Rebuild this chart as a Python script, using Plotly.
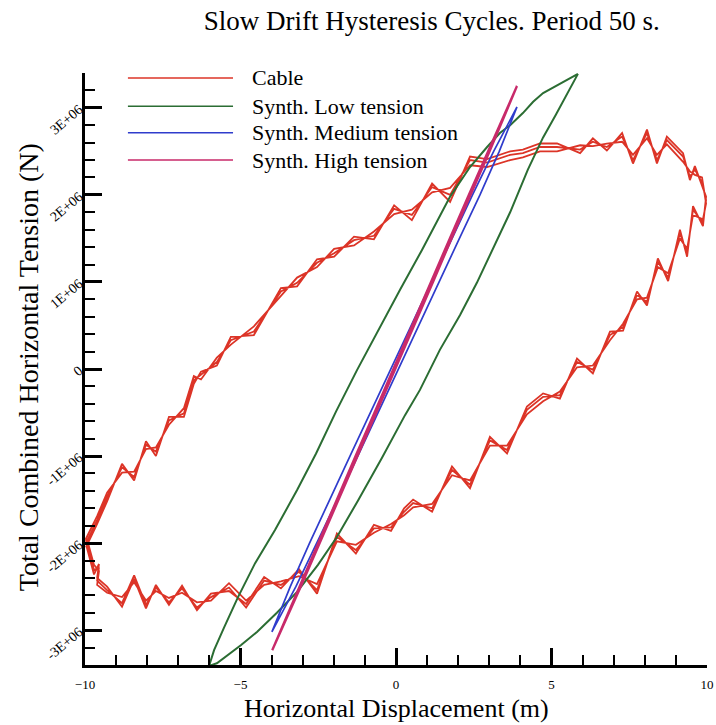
import numpy as np
import plotly.graph_objects as go

# ---------------------------------------------------------------------------
# Data (displacement in m, tension in MN; converted to N when plotted)
# ---------------------------------------------------------------------------

# Steel cable: loop sampled along the lower branch (left -> right) and then
# back along the upper branch (right -> left).
cable_x = [
    -9.94, -9.71, -9.55, -9.61, -9.29, -8.81, -8.42, -8.04, -7.72, -7.30,
    -6.88, -6.40, -5.95, -5.37, -4.82, -4.24, -3.70, -3.12, -2.54, -1.90,
    -1.29, -0.71, -0.16, 0.26, 0.55, 1.16, 1.80, 2.38, 3.02, 3.57,
    4.21, 4.73, 5.27, 5.82, 6.33, 6.88, 7.30, 7.75, 8.07, 8.42,
    8.75, 9.13, 9.36, 9.55, 9.87, 9.97,
    9.84, 9.61, 9.45, 9.23, 8.71, 8.39, 8.07, 7.62, 7.27, 6.78,
    6.33, 5.92, 5.18, 4.63, 4.08, 3.67, 2.93, 2.38, 1.74, 1.16,
    0.51, -0.06, -0.71, -1.35, -1.99, -2.54, -3.18, -3.70, -4.57, -5.31,
    -5.76, -6.27, -6.50, -6.82, -7.30, -7.72, -8.04, -8.42, -8.81, -9.29,
    -9.61, -9.97,
]

cable_y_cycle1 = [
    -2.00, -2.31, -2.28, -2.43, -2.54, -2.69, -2.37, -2.71, -2.51, -2.68,
    -2.52, -2.74, -2.62, -2.51, -2.74, -2.43, -2.48, -2.33, -2.54, -1.93,
    -2.08, -1.83, -1.82, -1.64, -1.54, -1.60, -1.16, -1.33, -0.82, -0.93,
    -0.47, -0.32, -0.30, 0.08, -0.01, 0.39, 0.48, 0.85, 0.77, 1.23,
    1.05, 1.56, 1.33, 1.83, 1.68, 1.94,
    2.14, 2.29, 2.21, 2.44, 2.63, 2.40, 2.71, 2.40, 2.67, 2.55,
    2.61, 2.52, 2.55, 2.55, 2.48, 2.46, 2.37, 2.40, 2.00, 2.09,
    1.77, 1.84, 1.53, 1.48, 1.33, 1.22, 0.99, 0.89, 0.43, 0.33,
    0.08, -0.07, -0.13, -0.51, -0.59, -0.95, -0.87, -1.24, -1.13, -1.47,
    -1.74, -2.00,
]

cable_y_cycle2 = [
    -1.95, -2.25, -2.32, -2.48, -2.57, -2.62, -2.45, -2.66, -2.55, -2.63,
    -2.57, -2.68, -2.66, -2.46, -2.66, -2.48, -2.44, -2.38, -2.47, -1.98,
    -2.02, -1.88, -1.78, -1.68, -1.59, -1.55, -1.22, -1.28, -0.88, -0.88,
    -0.52, -0.37, -0.26, 0.02, 0.04, 0.33, 0.52, 0.80, 0.82, 1.17,
    1.10, 1.50, 1.38, 1.77, 1.72, 1.90,
    2.20, 2.23, 2.27, 2.38, 2.58, 2.46, 2.65, 2.46, 2.61, 2.59,
    2.56, 2.57, 2.50, 2.50, 2.43, 2.40, 2.32, 2.34, 2.08, 2.03,
    1.83, 1.78, 1.58, 1.42, 1.38, 1.17, 1.05, 0.84, 0.49, 0.28,
    0.13, -0.12, -0.08, -0.45, -0.64, -0.90, -0.92, -1.18, -1.19, -1.42,
    -1.69, -1.95,
]

cable_y_cycle3 = [
    -2.05, -2.36, -2.24, -2.40, -2.50, -2.73, -2.41, -2.75, -2.48, -2.71,
    -2.49, -2.77, -2.58, -2.55, -2.70, -2.39, -2.52, -2.30, -2.58, -1.89,
    -2.12, -1.79, -1.86, -1.60, -1.50, -1.64, -1.12, -1.37, -0.78, -0.97,
    -0.43, -0.28, -0.34, 0.12, -0.05, 0.43, 0.44, 0.89, 0.73, 1.27,
    1.01, 1.60, 1.29, 1.87, 1.64, 1.98,
    2.10, 2.33, 2.17, 2.48, 2.67, 2.36, 2.75, 2.36, 2.71, 2.51,
    2.65, 2.48, 2.59, 2.59, 2.52, 2.50, 2.41, 2.44, 1.92, 2.13,
    1.71, 1.88, 1.49, 1.52, 1.29, 1.26, 0.95, 0.93, 0.39, 0.37,
    0.04, -0.03, -0.17, -0.55, -0.55, -1.00, -0.83, -1.28, -1.09, -1.52,
    -1.78, -2.05,
]

# Synthetic line, low pretension: upper branch (top tip -> bottom tip),
# then lower branch back up to the top tip.
low_x = [
    5.85, 5.18, 4.73, 4.41, 4.08, 3.67, 3.34, 2.93, 2.38, 1.74,
    0.84, 0.13, -0.55, -1.25, -1.93, -2.57, -3.18, -3.89, -4.53, -5.08,
    -5.53, -5.85, -6.01,
    -5.76, -4.98, -4.47, -3.83, -3.18, -2.51, -1.90, -1.22, -0.45, 0.29,
    0.77, 1.41, 2.06, 2.60, 3.09, 3.67, 4.24, 4.73, 5.14, 5.50,
    5.76, 5.85,
]
low_y = [
    3.39, 3.26, 3.17, 3.07, 2.94, 2.80, 2.71, 2.55, 2.32, 1.98,
    1.37, 0.91, 0.45, -0.01, -0.49, -0.97, -1.39, -1.85, -2.23, -2.62,
    -2.97, -3.23, -3.41,
    -3.38, -3.17, -3.02, -2.80, -2.56, -2.25, -1.93, -1.51, -1.02, -0.53,
    -0.24, 0.22, 0.62, 0.99, 1.37, 1.80, 2.29, 2.66, 2.92, 3.15,
    3.32, 3.39,
]

# Synthetic line, medium pretension
medium_x = [
    3.89, 3.14, 2.46, 1.80, 1.14, 0.49, -0.17, -0.83, -1.48, -2.13,
    -2.78, -3.40, -3.99,
    -3.22, -2.54, -1.88, -1.23, -0.58, 0.08, 0.74, 1.39, 2.04,
    2.70, 3.32, 3.89,
]
medium_y = [
    3.01, 2.50, 2.00, 1.50, 1.00, 0.50, 0.00, -0.50, -1.00, -1.50,
    -2.00, -2.50, -3.02,
    -2.50, -2.00, -1.50, -1.00, -0.50, 0.00, 0.50, 1.00, 1.50,
    2.00, 2.50, 3.01,
]

# Synthetic line, high pretension
high_x = [
    3.89, 2.95, 2.34, 1.73, 1.13, 0.52, -0.09, -0.69, -1.30, -1.90,
    -2.51, -3.12, -3.98,
    -3.06, -2.45, -1.84, -1.24, -0.63, -0.03, 0.58, 1.19, 1.79,
    2.40, 3.01, 3.89,
]
high_y = [
    3.25, 2.50, 2.00, 1.50, 1.00, 0.50, 0.00, -0.50, -1.00, -1.50,
    -2.00, -2.50, -3.23,
    -2.50, -2.00, -1.50, -1.00, -0.50, 0.00, 0.50, 1.00, 1.50,
    2.00, 2.50, 3.25,
]

series_names = ["Cable", "Synth. Low tension", "Synth. Medium tension", "Synth. High tension"]
series_colors = ["#dc3427", "#2b6d33", "#2f3ccc", "#c82a6a"]

y_tick_vals = [-3, -2, -1, 0, 1, 2, 3]
y_tick_text = ["-3E+06", "-2E+06", "-1E+06", "0", "1E+06", "2E+06", "3E+06"]
x_tick_vals = [-10, -5, 0, 5, 10]

MN = 1e6
SERIF = "Liberation Serif, Times New Roman, serif"

fig = go.Figure()

# Three overlapping cable cycles drawn as one continuous path
cx = np.array(cable_x * 3)
cy = np.concatenate([cable_y_cycle1, cable_y_cycle2, cable_y_cycle3]) * MN
fig.add_trace(go.Scatter(x=cx, y=cy, mode="lines", name=series_names[0],
                         line=dict(color=series_colors[0], width=1.8)))
fig.add_trace(go.Scatter(x=low_x, y=np.array(low_y) * MN, mode="lines",
                         name=series_names[1],
                         line=dict(color=series_colors[1], width=2)))
fig.add_trace(go.Scatter(x=medium_x, y=np.array(medium_y) * MN, mode="lines",
                         name=series_names[2],
                         line=dict(color=series_colors[2], width=1.7)))
fig.add_trace(go.Scatter(x=high_x, y=np.array(high_y) * MN, mode="lines",
                         name=series_names[3],
                         line=dict(color=series_colors[3], width=2.3)))

# Hand-drawn legend with long line samples in the upper-left corner
shapes = []
annotations = []
legend_rows_y = [0.9916, 0.944, 0.899, 0.853]
for name, color, ly in zip(series_names, series_colors, legend_rows_y):
    shapes.append(dict(type="line", xref="paper", yref="paper",
                       x0=0.069, x1=0.238, y0=ly, y1=ly,
                       line=dict(color=color, width=1.5)))
    annotations.append(dict(xref="paper", yref="paper", x=0.265, y=ly,
                            xanchor="left", yanchor="middle", showarrow=False,
                            text=name, font=dict(family=SERIF, size=22, color="black")))

# Axis titles
annotations.append(dict(xref="paper", yref="paper", x=0.5, y=-0.1,
                        xanchor="center", yanchor="bottom", showarrow=False,
                        borderpad=0,
                        text="Horizontal Displacement (m)",
                        font=dict(family=SERIF, size=26, color="black")))
annotations.append(dict(xref="paper", yref="paper", x=-0.0916, y=0.503,
                        xanchor="center", yanchor="middle", showarrow=False,
                        textangle=-90,
                        text="Total Combined Horizontal Tension (N)",
                        font=dict(family=SERIF, size=28, color="black")))

fig.update_layout(
    width=716, height=725,
    margin=dict(l=85, r=9, t=73, b=60, autoexpand=False),
    paper_bgcolor="white", plot_bgcolor="white",
    showlegend=False,
    title=dict(text="Slow Drift Hysteresis Cycles. Period 50 s.",
               xref="container", yref="container", x=0.603, y=0.972,
               xanchor="center", yanchor="middle",
               font=dict(family=SERIF, size=27, color="black")),
    shapes=shapes,
    annotations=annotations,
    xaxis=dict(
        range=[-10, 10], tickvals=x_tick_vals,
        ticks="inside", ticklen=17, tickwidth=3, tickcolor="black",
        showline=True, linewidth=3, linecolor="black",
        showgrid=False, zeroline=False, automargin=False,
        ticklabelstandoff=5,
        tickfont=dict(family=SERIF, size=13, color="black"),
        minor=dict(dtick=1, tick0=0, ticks="inside", ticklen=10,
                   tickwidth=2, tickcolor="black", showgrid=False),
    ),
    yaxis=dict(
        range=[-3.4 * MN, 3.4 * MN],
        tickvals=[v * MN for v in y_tick_vals], ticktext=y_tick_text,
        tickangle=-40,
        ticks="inside", ticklen=17, tickwidth=3, tickcolor="black",
        showline=True, linewidth=3, linecolor="black",
        showgrid=False, zeroline=False, automargin=False,
        tickfont=dict(family=SERIF, size=14, color="black"),
        minor=dict(dtick=0.2 * MN, tick0=0, ticks="inside", ticklen=10,
                   tickwidth=2, tickcolor="black", showgrid=False),
    ),
)

fig.write_html("out.html")
